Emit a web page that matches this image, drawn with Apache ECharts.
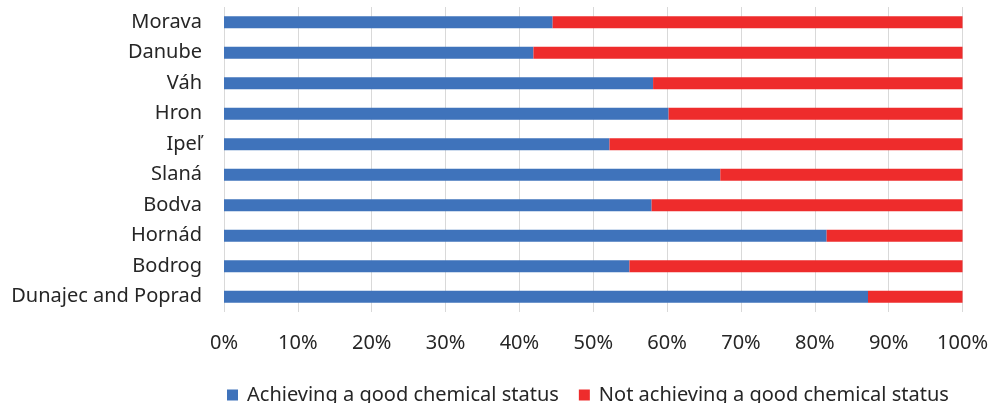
<!DOCTYPE html>
<html>
<head>
<meta charset="utf-8">
<script src="https://cdn.jsdelivr.net/npm/echarts@6/dist/echarts.min.js"></script>
<style>
  html, body { margin: 0; padding: 0; background: #ffffff; }
  #chart { width: 991px; height: 403px; }
</style>
</head>
<body>
<div id="chart"></div>
<script>
// River basins, top to bottom
const basins = ['Morava', 'Danube', 'Váh', 'Hron', 'Ipeľ', 'Slaná', 'Bodva', 'Hornád', 'Bodrog', 'Dunajec and Poprad'];
// Share of water bodies (%) per basin
const achieving = [44.5, 41.9, 58.1, 60.2, 52.2, 67.2, 57.9, 81.6, 54.9, 87.2];
const notAchieving = [55.5, 58.1, 41.9, 39.8, 47.8, 32.8, 42.1, 18.4, 45.1, 12.8];
const seriesNames = ['Achieving a good chemical status', 'Not achieving a good chemical status'];

const FONT = 'Noto Sans';
const chart = echarts.init(document.getElementById('chart'), null, { renderer: 'canvas' });

chart.setOption({
  animation: false,
  backgroundColor: '#ffffff',
  grid: { left: 224, right: 28, top: 7, bottom: 91, containLabel: false },
  legend: {
    bottom: -7,
    left: 222,
    itemWidth: 11,
    itemHeight: 11,
    itemGap: 20,
    icon: 'rect',
    textStyle: { fontFamily: FONT, fontSize: 20, color: '#262626', padding: [0, 0, 0, 4] },
    data: seriesNames
  },
  xAxis: {
    type: 'value',
    min: 0,
    max: 100,
    interval: 10,
    axisLine: { show: false },
    axisTick: { show: false },
    splitLine: { show: true, lineStyle: { color: '#d9d9d9', width: 1 } },
    axisLabel: {
      margin: 21,
      fontFamily: FONT,
      fontSize: 20,
      color: '#262626',
      formatter: v => v + '%'
    }
  },
  yAxis: {
    type: 'category',
    inverse: true,
    data: basins,
    axisLine: { show: false },
    axisTick: { show: false },
    axisLabel: { margin: 22, fontFamily: FONT, fontSize: 20, color: '#262626' }
  },
  series: [
    {
      name: seriesNames[0],
      type: 'bar',
      stack: 'total',
      barWidth: 12,
      itemStyle: { color: '#3f73bb' },
      data: achieving
    },
    {
      name: seriesNames[1],
      type: 'bar',
      stack: 'total',
      barWidth: 12,
      itemStyle: { color: '#ee2c2c' },
      data: notAchieving
    }
  ]
});
</script>
</body>
</html>
